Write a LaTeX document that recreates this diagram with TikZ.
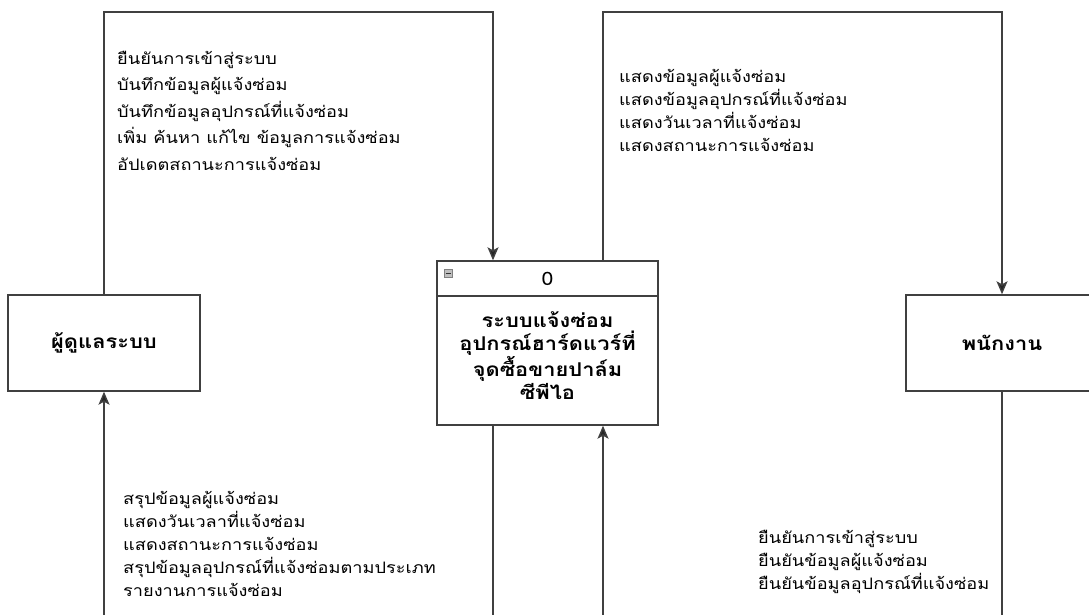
\documentclass[tikz,border=0pt]{standalone}
\usepackage{fontspec}
\setmainfont[Script=Thai,FakeStretch=1.15]{Loma}
\usetikzlibrary{arrows.meta,positioning}

\begin{document}
\begin{tikzpicture}[x=1pt,y=-1pt,
  line/.style={draw=black!75,line width=1.4pt},
  flow/.style={line,-{Stealth[length=13pt,width=11pt,inset=3pt,fill=black!85]}},
  entity/.style={line,minimum width=192pt,minimum height=96pt,
    font=\fontsize{19}{22}\selectfont\bfseries},
  procbox/.style={line,minimum width=221pt,align=center},
  note/.style={align=left,inner sep=0pt,anchor=base west}]
%page size, the flows run on past the bottom edge
\clip (0,0) rectangle (1089,615);
%external entities
\node[entity] (admin) at (104,343) {ผู้ดูแลระบบ};
\node[entity] (staff) at (1002,343) {พนักงาน};
%process 0
\node[procbox,minimum height=35pt,font=\fontsize{18.5}{22}\selectfont] (prochead) at (547.5,278.5) {0};
\node[procbox,minimum height=129pt,text depth=10pt,font=\fontsize{19}{23}\selectfont\bfseries] (procbody) at (547.5,360.5)
  {ระบบแจ้งซ่อม\\อุปกรณ์ฮาร์ดแวร์ที่\\จุดซื้อขายปาล์ม\\ซีพีไอ};
%collapse icon
\draw[draw=black!50,fill=black!25] (444,269.5) rectangle (452,277.5);
\draw[black!80,line width=1.3pt] (445.5,273.5) -- (450.5,273.5);
%data flows
\draw[flow] (admin.north) -- (admin.north |- 0,12) -| ([xshift=-54.5pt]prochead.north);
\draw[flow] ([xshift=55.5pt]prochead.north) -- ([xshift=55.5pt]prochead.north |- 0,12) -| (staff.north);
\draw[flow] (staff.south) -- (staff.south |- 0,640) -| ([xshift=55.5pt]procbody.south);
\draw[flow] ([xshift=-54.5pt]procbody.south) -- ([xshift=-54.5pt]procbody.south |- 0,660) -| (admin.south);
%flow labels (anchored on the last line)
\node[note,font=\fontsize{15.8}{26.5}\selectfont] (admintoproc) at (117,170)
  {ยืนยันการเข้าสู่ระบบ\\บันทึกข้อมูลผู้แจ้งซ่อม\\บันทึกข้อมูลอุปกรณ์ที่แจ้งซ่อม\\เพิ่ม ค้นหา แก้ไข ข้อมูลการแจ้งซ่อม\\อัปเดตสถานะการแจ้งซ่อม};
\node[note,font=\fontsize{15.8}{22.7}\selectfont] (proctostaff) at (619,151)
  {แสดงข้อมูลผู้แจ้งซ่อม\\แสดงข้อมูลอุปกรณ์ที่แจ้งซ่อม\\แสดงวันเวลาที่แจ้งซ่อม\\แสดงสถานะการแจ้งซ่อม};
\node[note,font=\fontsize{15.8}{23}\selectfont] (proctoadmin) at (123,596)
  {สรุปข้อมูลผู้แจ้งซ่อม\\แสดงวันเวลาที่แจ้งซ่อม\\แสดงสถานะการแจ้งซ่อม\\สรุปข้อมูลอุปกรณ์ที่แจ้งซ่อมตามประเภท\\รายงานการแจ้งซ่อม};
\node[note,font=\fontsize{15.8}{22.7}\selectfont] (stafftoproc) at (758,589)
  {ยืนยันการเข้าสู่ระบบ\\ยืนยันข้อมูลผู้แจ้งซ่อม\\ยืนยันข้อมูลอุปกรณ์ที่แจ้งซ่อม};
\end{tikzpicture}
\end{document}
